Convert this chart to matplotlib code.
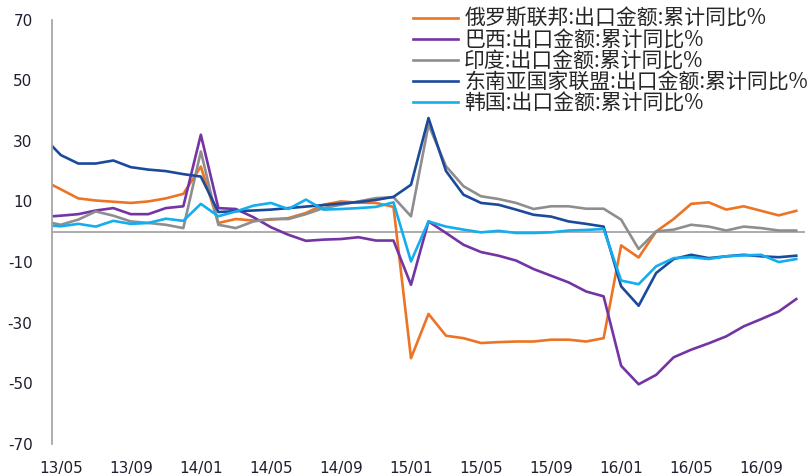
import matplotlib
matplotlib.use("Agg")
import matplotlib.pyplot as plt
import numpy as np
import pandas as pd

# Monthly series, 2013-04 .. 2016-11 (cumulative YoY export growth, %)
months = pd.period_range("2013-04", "2016-11", freq="M")
month_labels = [p.strftime("%y/%m") for p in months]

russia = [17.0, 14.0, 11.0, 10.3, 9.9, 9.5, 10.0, 11.0, 12.5, 21.5,
          2.9, 4.2, 3.7, 4.0, 4.5, 6.2, 8.9, 10.0, 9.6, 9.5, 8.2,
          -41.7, -27.1, -34.3, -35.1, -36.7, -36.4, -36.2, -36.2, -35.6, -35.6, -36.2, -35.1,
          -4.5, -8.5, 0.1, 4.2, 9.2, 9.7, 7.3, 8.4, 6.9, 5.4, 6.9]
brazil = [4.9, 5.3, 5.8, 7.0, 7.8, 5.8, 5.8, 7.8, 8.4, 32.0,
          7.8, 7.5, 4.8, 1.5, -1.0, -3.0, -2.6, -2.4, -1.8, -2.9, -2.9,
          -17.5, 3.4, -0.4, -4.3, -6.7, -7.9, -9.5, -12.3, -14.5, -16.7, -19.7, -21.3,
          -44.2, -50.3, -47.2, -41.4, -38.9, -36.8, -34.5, -31.2, -28.8, -26.3, -22.2]
india = [3.5, 2.3, 4.0, 6.7, 5.3, 3.4, 2.9, 2.3, 1.2, 26.5,
         2.3, 1.2, 3.4, 4.2, 4.2, 5.8, 7.8, 8.9, 10.0, 11.1, 11.4,
         5.1, 35.3, 21.6, 15.0, 11.7, 10.8, 9.5, 7.5, 8.4, 8.4, 7.6, 7.6,
         4.0, -5.7, 0.1, 0.7, 2.3, 1.7, 0.4, 1.7, 1.2, 0.4, 0.4]
asean = [31.3, 25.3, 22.5, 22.5, 23.5, 21.3, 20.5, 20.0, 19.0, 18.2,
         6.5, 6.8, 7.0, 7.3, 7.8, 8.3, 8.8, 9.3, 9.8, 10.5, 11.5,
         15.5, 37.5, 20.0, 12.2, 9.5, 8.9, 7.3, 5.6, 5.0, 3.4, 2.6, 1.7,
         -18.0, -24.4, -13.6, -9.0, -7.6, -8.7, -8.1, -7.6, -8.1, -8.4, -7.9]
korea = [2.2, 1.8, 2.6, 1.7, 3.6, 2.6, 2.9, 4.3, 3.6, 9.2,
         5.1, 6.7, 8.6, 9.5, 7.5, 10.6, 7.3, 7.5, 7.8, 8.2, 9.7,
         -9.8, 3.4, 1.7, 0.7, -0.2, 0.3, -0.4, -0.4, -0.2, 0.4, 0.6, 0.9,
         -16.1, -17.3, -11.4, -8.7, -8.4, -9.0, -8.1, -7.8, -7.6, -10.0, -9.0]

series_names = ["俄罗斯联邦:出口金额:累计同比%", "巴西:出口金额:累计同比%",
                "印度:出口金额:累计同比%", "东南亚国家联盟:出口金额:累计同比%",
                "韩国:出口金额:累计同比%"]
series_values = [russia, brazil, india, asean, korea]
series_colors = ["#EC7424", "#7434A4", "#8E8E8E", "#1B4A9C", "#14ADEE"]

tick_labels = ["13/05", "13/09", "14/01", "14/05", "14/09", "15/01",
               "15/05", "15/09", "16/01", "16/05", "16/09"]
y_ticks = [70, 50, 30, 10, -10, -30, -50, -70]

plt.rcParams["font.family"] = ["DejaVu Sans"]

fig = plt.figure(figsize=(8.11, 4.76), dpi=100)
ax = fig.add_axes([52 / 811, 1 - 444 / 476, (805 - 52) / 811, (444 - 19.5) / 476])

x = np.arange(len(months))
for name, vals, col in zip(series_names, series_values, series_colors):
    ax.plot(x, vals, color=col, lw=1.9, label=name, solid_joinstyle="round")

ax.axhline(0, color="#A6A6A6", lw=1.3, zorder=1)

ax.set_xlim(0.5, len(months) - 0.5)
ax.set_ylim(-70, 70)
ax.set_yticks(y_ticks)
ax.set_yticklabels([str(v) for v in y_ticks])
tick_pos = [month_labels.index(t) for t in tick_labels]
ax.set_xticks(tick_pos)
ax.set_xticklabels(tick_labels)

for side in ("top", "right", "bottom"):
    ax.spines[side].set_visible(False)
ax.spines["left"].set_color("#A6A6A6")
ax.spines["left"].set_linewidth(1.3)
ax.tick_params(axis="both", length=0, labelsize=11, colors="#1E1E2E")
ax.tick_params(axis="y", pad=14)
ax.tick_params(axis="x", pad=12)

leg = ax.legend(loc="upper right", bbox_to_anchor=(808 / 811, 1 - 8 / 476),
                bbox_transform=fig.transFigure, frameon=False,
                prop={"family": ["Noto Sans CJK SC", "DejaVu Sans"], "size": 15},
                handlelength=2.15, handletextpad=0.3, labelspacing=-0.04,
                borderpad=0.0, borderaxespad=0.0)
for t in leg.get_texts():
    t.set_color("#262626")

fig.savefig("out.png", dpi=100)
